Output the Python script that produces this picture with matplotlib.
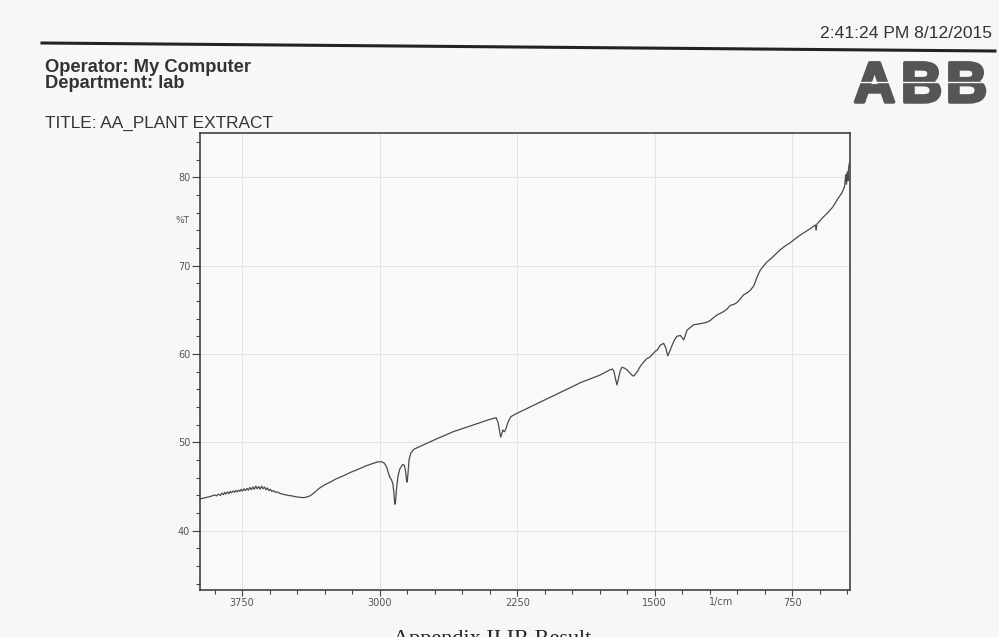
import numpy as np
import matplotlib.pyplot as plt
from matplotlib.lines import Line2D
from matplotlib.ticker import MultipleLocator
import matplotlib.transforms as mtransforms
import matplotlib.patheffects as pe

# spectrum (wavenumber 1/cm, %T)
wavenumber = [3980, 3950, 3920, 3900, 3890, 3880, 3870, 3860, 3852, 3845,
              3838, 3830, 3822, 3815, 3808, 3800, 3792, 3785, 3778, 3770,
              3762, 3755, 3748, 3740, 3732, 3724, 3716, 3708, 3700, 3692,
              3684, 3676, 3668, 3660, 3652, 3644, 3636, 3628, 3620, 3612,
              3604, 3596, 3588, 3580, 3570, 3560, 3540, 3520, 3500, 3480,
              3460, 3440, 3420, 3400, 3380, 3360, 3330, 3300, 3270, 3240,
              3200, 3160, 3124, 3080, 3040, 3010, 2990, 2975, 2962, 2952,
              2944, 2936, 2928, 2922, 2918, 2914, 2908, 2900, 2890, 2875,
              2865, 2858, 2853, 2850, 2846, 2840, 2830, 2815, 2795, 2700,
              2600, 2500, 2400, 2365, 2355, 2345, 2340, 2335, 2328, 2320,
              2312, 2300, 2285, 2260, 2200, 2100, 2000, 1900, 1800, 1745,
              1730, 1722, 1714, 1706, 1698, 1688, 1679, 1665, 1651, 1637,
              1624, 1615, 1606, 1592, 1579, 1560, 1542, 1530, 1515, 1497,
              1484, 1470, 1451, 1440, 1429, 1418, 1405, 1392, 1379, 1360,
              1342, 1333, 1324, 1306, 1288, 1260, 1233, 1215, 1197, 1180,
              1161, 1142, 1124, 1105, 1088, 1070, 1052, 1035, 1015, 997,
              979, 960, 940, 924, 905, 888, 860, 830, 815, 790,
              760, 742, 710, 680, 650, 630, 624, 620, 615, 590,
              560, 530, 500, 480, 465, 458, 454, 450, 446, 443,
              438]
transmittance = [43.6, 43.75, 43.9, 44.05, 43.95, 44.15, 44.0, 44.25, 44.1, 44.35,
                 44.15, 44.4, 44.2, 44.45, 44.3, 44.5, 44.35, 44.55, 44.4, 44.6,
                 44.45, 44.7, 44.5, 44.75, 44.55, 44.8, 44.6, 44.9, 44.65, 44.95,
                 44.7, 45.05, 44.75, 45.0, 44.7, 45.05, 44.75, 44.95, 44.65, 44.85,
                 44.55, 44.7, 44.45, 44.55, 44.35, 44.4, 44.2, 44.1, 44.0, 43.95,
                 43.85, 43.8, 43.75, 43.8, 43.95, 44.25, 44.8, 45.2, 45.5, 45.85,
                 46.2, 46.6, 46.9, 47.3, 47.6, 47.8, 47.8, 47.65, 47.2, 46.5,
                 46.0, 45.8, 45.3, 44.2, 43.0, 43.2, 44.8, 46.2, 47.0, 47.5,
                 47.4, 46.6, 45.6, 45.5, 46.4, 48.0, 48.8, 49.2, 49.4, 50.3,
                 51.2, 51.9, 52.6, 52.8, 52.3, 51.2, 50.6, 50.9, 51.4, 51.2,
                 51.5, 52.3, 52.9, 53.2, 53.8, 54.8, 55.8, 56.8, 57.6, 58.2,
                 58.3, 58.0, 57.2, 56.5, 57.2, 58.1, 58.5, 58.4, 58.2, 57.9,
                 57.6, 57.5, 57.7, 58.1, 58.6, 59.1, 59.5, 59.6, 59.9, 60.3,
                 60.5, 61.0, 61.2, 60.7, 59.8, 60.3, 61.0, 61.6, 62.0, 62.1,
                 61.6, 62.1, 62.7, 63.0, 63.3, 63.4, 63.5, 63.6, 63.8, 64.1,
                 64.4, 64.6, 64.8, 65.1, 65.5, 65.6, 65.8, 66.2, 66.7, 66.9,
                 67.2, 67.7, 68.8, 69.5, 70.0, 70.4, 70.9, 71.5, 71.8, 72.2,
                 72.6, 72.9, 73.4, 73.8, 74.2, 74.5, 74.6, 74.0, 74.7, 75.3,
                 75.9, 76.6, 77.6, 78.2, 78.9, 80.3, 79.2, 80.6, 79.6, 81.0,
                 81.6]

x_major = [3750, 3000, 2250, 1500, 750]
y_major = [40, 50, 60, 70, 80]

W, H = 999, 637
bg = '#f7f7f5'
fig = plt.figure(figsize=(W / 100, H / 100), dpi=100)
fig.patch.set_facecolor(bg)

def fx(px):
    return px / W

def fy(py):
    return 1 - py / H

ax = fig.add_axes([fx(200), fy(590), fx(850) - fx(200), fy(133) - fy(590)])
ax.set_facecolor('#f9f9f8')
ax.plot(wavenumber, transmittance, color='#4a4a4a', linewidth=0.9)

ax.set_xlim(3980, 435)
ax.set_ylim(33.3, 85.0)
ax.set_xticks(x_major)
ax.xaxis.set_minor_locator(MultipleLocator(150))
ax.set_yticks(y_major)
ax.yaxis.set_minor_locator(MultipleLocator(2))
ax.grid(True, which='major', color='#e3e3e3', linewidth=0.7)

for s in ax.spines.values():
    s.set_color('#333333')
    s.set_linewidth(1.1)
ax.tick_params(axis='x', which='major', direction='out', length=4, width=0.8,
               color='#444444', labelsize=7, labelcolor='#555555', pad=2)
ax.tick_params(axis='x', which='minor', direction='out', length=3, width=0.8, color='#444444')
ax.tick_params(axis='y', which='major', direction='out', length=6, width=0.8,
               color='#444444', labelsize=7, labelcolor='#555555', pad=1)
ax.tick_params(axis='y', which='minor', direction='out', length=3, width=0.8, color='#444444')

trans = mtransforms.blended_transform_factory(ax.transData, ax.transAxes)
ax.text(1140, -0.027, '1/cm', transform=trans, ha='center', va='center',
        fontsize=7, color='#555555')
fig.text(fx(182), fy(221), '%T', ha='center', va='center', fontsize=6.5, color='#555555')

# page header
sans = ['Liberation Sans', 'DejaVu Sans']
fig.add_artist(Line2D([fx(42), fx(995)], [fy(43), fy(51)], color='#222222', linewidth=2.2))
fig.text(fx(992), fy(38), '2:41:24 PM 8/12/2015', ha='right', va='baseline',
         fontsize=12.6, family=sans, color='#333333')
fig.text(fx(45), fy(72), 'Operator: My Computer', ha='left', va='baseline',
         fontsize=13.2, fontweight='bold', family=sans, color='#333333')
fig.text(fx(45), fy(88.5), 'Department: lab', ha='left', va='baseline',
         fontsize=13.2, fontweight='bold', family=sans, color='#333333')
fig.text(fx(45), fy(128), 'TITLE: AA_PLANT EXTRACT', ha='left', va='baseline',
         fontsize=12.4, family=sans, color='#333333')

# ABB logo, thickened block letters with a white stripe
logo_fx = [pe.withStroke(linewidth=2.5, foreground='#555555')]
for lx, letter in zip([854, 901, 946], 'ABB'):
    fig.text(fx(lx), fy(102), letter, ha='left', va='baseline', fontsize=41,
             fontweight='bold', family=sans, color='#555555', path_effects=logo_fx)
fig.add_artist(Line2D([fx(850), fx(992)], [fy(82), fy(82)], color=bg,
                      linewidth=1.0, zorder=10))

# caption cut off by the page edge, as in the scan
fig.text(fx(393), fy(644), 'Appendix II IR Result', ha='left', va='baseline',
         fontsize=16, family=['Liberation Serif', 'DejaVu Serif'], color='#222222')

plt.savefig('out.png', dpi=100, facecolor=fig.get_facecolor())
